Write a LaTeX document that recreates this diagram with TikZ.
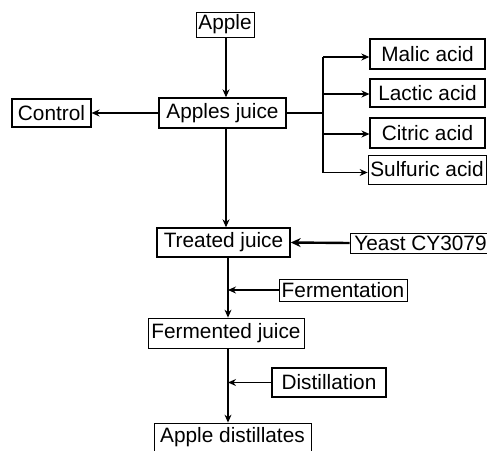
\documentclass[tikz,border=0pt]{standalone}
\usepackage{fontspec}
\setmainfont{Liberation Sans}
\usepackage{tikz}
\usetikzlibrary{arrows.meta,calc}

\begin{document}
\begin{tikzpicture}[x=1pt,y=-1pt,
        box/.style={draw,line width=0.8pt,inner sep=0pt,font=\fontsize{20.8}{24}\selectfont},
        thick box/.style={box,line width=1.4pt},
        flow/.style={line width=1.1pt,-{Stealth[length=8pt,width=7pt]}},
        feed/.style={line width=2.4pt,-{Stealth[length=10pt,width=9pt]}}]
        \useasboundingbox (0,0) rectangle (487,450);
        % boxes
        \node[box,minimum width=58,minimum height=25] (apple) at (225,24.5) {Apple};
        \node[thick box,minimum width=127,minimum height=30] (juice) at (222.5,113) {Apples juice};
        \node[box,line width=1.1pt,minimum width=79,minimum height=28] (control) at (51.5,113) {Control};
        \node[thick box,minimum width=115,minimum height=30] (malic) at (427.5,54) {Malic acid};
        \node[box,line width=1.1pt,minimum width=115,minimum height=28] (lactic) at (427.5,93) {Lactic acid};
        \node[box,line width=1.1pt,minimum width=115,minimum height=30] (citric) at (427.5,133) {Citric acid};
        \node[box,minimum width=118,minimum height=29] (sulfuric) at (427,169.5) {Sulfuric acid};
        \node[thick box,minimum width=133,minimum height=29] (treated) at (223.5,242.5) {Treated juice};
        \node[box,minimum width=141,minimum height=20] (yeast) at (420.5,243) {Yeast CY3079};
        \node[box,minimum width=128,minimum height=22] (ferment) at (343,290) {Fermentation};
        \node[box,minimum width=156,minimum height=30] (fermented) at (226,333) {Fermented juice};
        \node[box,line width=1.1pt,minimum width=114,minimum height=29] (distill) at (329,382.5) {Distillation};
        \node[box,minimum width=157,minimum height=29] (distillates) at (232.5,437.5) {Apple distillates};
        % trunk and branch lines
        \coordinate (top) at (226,0);
        \coordinate (trunk) at (228,0);
        \coordinate (fork) at (323,0);
        \draw[flow] (top |- apple.south) -- (top |- juice.north);
        \draw[flow] (juice.west) -- (control.east);
        \draw[flow] (top |- juice.south) -- (top |- treated.north);
        \draw[line width=1.1pt] (juice.east) -- (fork |- juice.east);
        \draw[line width=1.1pt] ($(fork |- malic.west)+(0,3)$) -- ($(fork |- sulfuric.west)+(0,3)$);
        \foreach \acid/\dy in {malic/3,lactic/1,citric/1,sulfuric/3}
            \draw[flow] ($(fork |- \acid.west)+(0,\dy)$) -- ($(\acid.west)+(0,\dy)$);
        \draw[feed] (yeast.west) -- (treated.east);
        \draw[flow] (trunk |- treated.south) -- (trunk |- fermented.north);
        \draw[flow] (ferment.west) -- (trunk |- ferment.west);
        \draw[flow] (trunk |- fermented.south) -- (trunk |- distillates.north);
        \draw[flow] (distill.west) -- (trunk |- distill.west);
\end{tikzpicture}
\end{document}
